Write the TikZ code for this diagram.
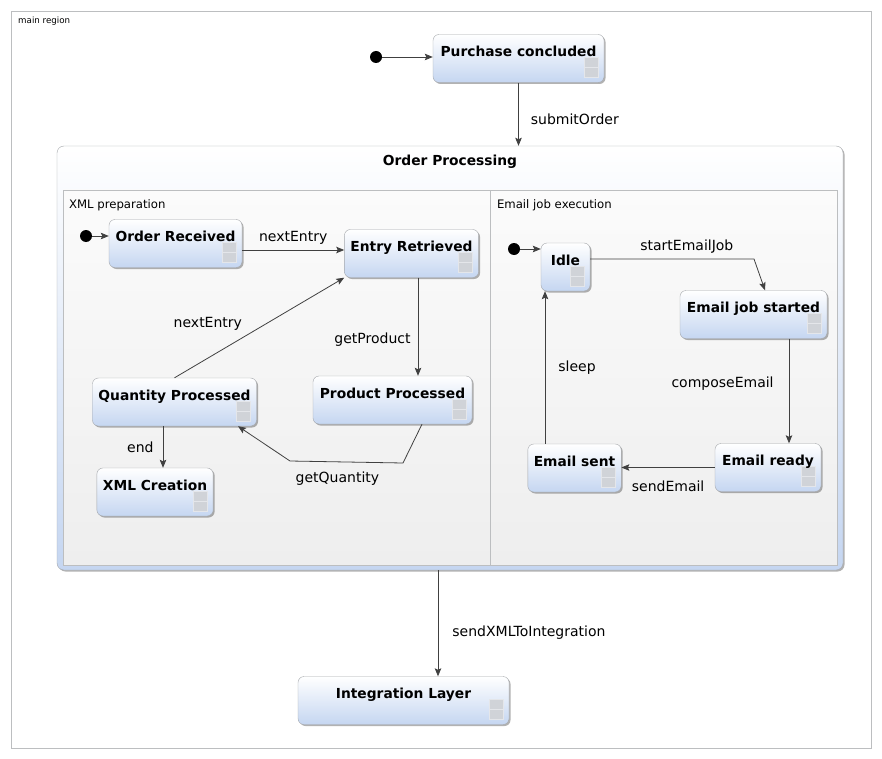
\documentclass[tikz,border=0pt]{standalone}
\usepackage{fontspec}
\setmainfont{DejaVu Sans}
\usetikzlibrary{arrows.meta,positioning,calc,shadows}
\definecolor{stBlue}{RGB}{197,214,241}
\definecolor{stLine}{RGB}{165,168,172}
\definecolor{regLine}{RGB}{188,190,192}
\definecolor{regTop}{RGB}{251,251,251}
\definecolor{regBot}{RGB}{238,238,238}
\definecolor{arrGray}{RGB}{64,64,64}
\definecolor{icnFill}{RGB}{208,211,216}
\definecolor{icnLine}{RGB}{228,230,234}
\newcommand{\cmpicon}[1]{%
  \draw[icn] ($(#1.south east)+(-20,-25)$) rectangle ++(14,10);
  \draw[icn] ($(#1.south east)+(-20,-15)$) rectangle ++(14,10);}

\begin{document}
\begin{tikzpicture}[
  x=1pt, y=-1pt,
  stbox/.style={draw=stLine, rounded corners=6pt, top color=white, bottom color=stBlue,
    drop shadow={shadow xshift=1.5pt, shadow yshift=-1.5pt, opacity=0.3, fill=black},
    path picture={\cmpicon{path picture bounding box}},
    minimum height=48pt, inner xsep=6pt, inner ysep=0pt, text height=22pt, text depth=26pt,
    font=\bfseries\fontsize{13.8}{16}\selectfont},
  comp/.style={draw=stLine, rounded corners=7pt, top color=white, bottom color=stBlue,
    drop shadow={shadow xshift=1.5pt, shadow yshift=-1.5pt, opacity=0.3, fill=black}},
  region/.style={draw=regLine, top color=regTop, bottom color=regBot},
  ini/.style={circle, fill=black, minimum size=12pt, inner sep=0pt},
  tr/.style={draw=arrGray, line width=0.8pt, -{Stealth[length=8pt,width=6.5pt,inset=1.5pt]}},
  lbl/.style={inner sep=0pt, font=\fontsize{14}{16}\selectfont},
  rlbl/.style={inner sep=0pt, font=\fontsize{11.7}{14}\selectfont},
  icn/.style={draw=icnLine, fill=icnFill, line width=0.6pt, rounded corners=0pt}]
  \useasboundingbox (0,0) rectangle (882,759);
  % main region
  \node[draw=regLine, fill=white, minimum width=860pt, minimum height=737pt] (mainframe) at (441,379.5) {};
  \node[inner sep=0pt, anchor=base west, font=\fontsize{8.7}{10}\selectfont] (mainlbl) at (18,24) {main region};
  % top
  \node[ini] (i0) at (376,57) {};
  \node[stbox, minimum width=171pt] (purchase) at (518.5,58.5) {Purchase concluded};
  \draw[tr] (i0) -- (i0 -| purchase.west);
  % composite state
  \node[comp, minimum width=786pt, minimum height=424pt] (order) at (450,358) {};
  \node[inner sep=0pt, anchor=base, font=\bfseries\fontsize{13.8}{16}\selectfont] (ordertitle) at (450,166) {Order Processing};
  \node[region, minimum width=427pt, minimum height=375pt] (xmlreg) at (276.5,377.5) {};
  \node[region, minimum width=347pt, minimum height=375pt] (mailreg) at (663.5,377.5) {};
  \node[rlbl, anchor=base west] (xmllbl) at ($(xmlreg.north west)+(6,18.5)$) {XML preparation};
  \node[rlbl, anchor=base west] (maillbl) at ($(mailreg.north west)+(7,18.5)$) {Email job execution};
  \draw[tr] (purchase.south) -- node[lbl, right=12pt, pos=0.58] {submitOrder} (purchase.south |- order.north);
  % XML preparation
  \node[ini] (i1) at (86,236) {};
  \node[stbox, minimum width=133pt] (orderrec) at (175.5,243.5) {Order Received};
  \node[stbox, minimum width=131pt] (entryret) at (411.5,253.5) {Entry Retrieved};
  \node[stbox, minimum width=159pt] (prodproc) at (392.5,400) {Product Processed};
  \node[stbox, minimum width=163pt] (qtyproc) at (174.5,402) {Quantity Processed};
  \node[stbox, minimum width=116pt] (xmlcre) at (155,492) {XML Creation};
  \coordinate (gq1) at (403,463);
  \coordinate (gq2) at (290,461);
  \draw[tr] (i1) -- (i1 -| orderrec.west);
  \draw[tr] (orderrec.east |- 0,250) -- node[lbl, above=5pt] {nextEntry} (entryret.west |- 0,250);
  \draw[tr] ([xshift=6.5pt]entryret.south) -- node[lbl, left=7pt, pos=0.63] {getProduct} ([xshift=6.5pt]entryret.south |- prodproc.north);
  \draw[tr] ([xshift=29.5pt]prodproc.south) -- (gq1) -- node[lbl, below=10pt, pos=0.58] {getQuantity} (gq2) -- ([xshift=63.5pt]qtyproc.south);
  \draw[tr] (qtyproc.north) -- node[lbl, pos=0.4, anchor=south east, yshift=7pt] {nextEntry} (entryret.south west);
  \draw[tr] ([xshift=-11.5pt]qtyproc.south) -- node[lbl, left=9pt] {end} ([xshift=-11.5pt]qtyproc.south |- xmlcre.north);
  % Email job execution
  \node[ini] (i2) at (514,249) {};
  \node[stbox, minimum width=49pt] (idle) at (565.5,267) {Idle};
  \node[stbox, minimum width=147pt] (jobstart) at (753.5,314.5) {Email job started};
  \node[stbox, minimum width=106pt] (mailready) at (768,467.5) {Email ready};
  \node[stbox, minimum width=93pt] (mailsent) at (574.5,468) {Email sent};
  \coordinate (sej) at (754,259);
  \draw[tr] (i2) -- (i2 -| idle.west);
  \draw[tr] ([yshift=8pt]idle.east) -- node[lbl, above=5pt, pos=0.59] {startEmailJob} (sej) -- ([xshift=11.5pt]jobstart.north);
  \draw[tr] ([xshift=35.5pt]jobstart.south) -- node[lbl, left=15pt, pos=0.43] {composeEmail} ([xshift=35.5pt]jobstart.south |- mailready.north);
  \draw[tr] (mailready.west) -- node[lbl, below=13pt] {sendEmail} (mailready.west -| mailsent.east);
  \draw[tr] ([xshift=-29.5pt]mailsent.north) -- node[lbl, right=13pt] {sleep} ([xshift=-29.5pt]mailsent.north |- idle.south);
  % bottom
  \node[stbox, minimum width=211pt] (integ) at (403.5,700.5) {Integration Layer};
  \draw[tr] ([xshift=-12pt]order.south) -- node[lbl, right=14pt, pos=0.59] {sendXMLToIntegration} ([xshift=-12pt]order.south |- integ.north);
\end{tikzpicture}
\end{document}
